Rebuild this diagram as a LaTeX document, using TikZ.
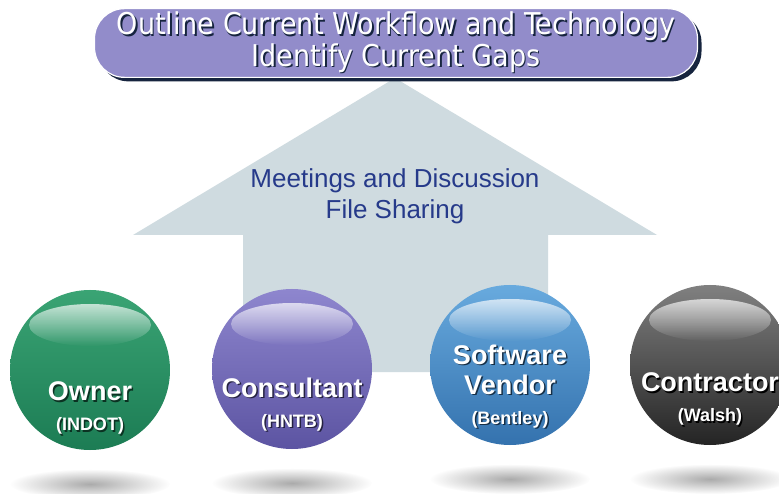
\documentclass[tikz,border=0pt]{standalone}
\usepackage{fontspec}
\setmainfont{Liberation Sans}
\newfontfamily\bannerfont{DejaVu Sans Condensed}
\usetikzlibrary{fadings, shadows}
\definecolor{bannerlo}{RGB}{146,140,202}
\definecolor{bannerhi}{RGB}{204,200,234}
\definecolor{bannerdark}{RGB}{22,36,62}
\definecolor{arrowgray}{RGB}{207,219,224}
\definecolor{arrowtext}{RGB}{38,58,138}
\definecolor{ownerbase}{RGB}{28,124,84}
\definecolor{ownerlight}{RGB}{58,164,116}
\definecolor{consbase}{RGB}{92,84,162}
\definecolor{conslight}{RGB}{142,134,206}
\definecolor{vendbase}{RGB}{52,114,174}
\definecolor{vendlight}{RGB}{104,170,222}
\definecolor{contbase}{RGB}{36,36,36}
\definecolor{contlight}{RGB}{128,128,128}
% white text with a dark copy underneath
\newcommand{\lifted}[2][black!70]{\makebox[0pt][l]{\hspace{1.5pt}\raisebox{-1.5pt}{\textcolor{#1}{#2}}}#2}
\newcommand{\subname}[1]{{\fontsize{18}{20}\selectfont #1}}
\tikzfading[name=glare, top color=transparent!30, bottom color=transparent!100]
\tikzfading[name=fuzzy, inner color=transparent!45, outer color=transparent!100]

\begin{document}
\begin{tikzpicture}[x=1pt, y=-1pt,
  orb/.style 2 args={circle, minimum size=160pt, inner sep=0pt,
    path picture={
      \shade[top color=#2, bottom color=#1] (path picture bounding box.south west) rectangle (path picture bounding box.north east);
      \fill[white, path fading=glare] ([yshift=45pt]path picture bounding box.center) ellipse (61pt and 21pt);
    }},
  orbtext/.style={text=white, align=center, font=\bfseries\fontsize{27}{30}\selectfont},
  floor/.style={fill=black!60, path fading=fuzzy},
  banner/.style={rounded corners=30pt, minimum width=603pt, minimum height=60pt,
    left color=bannerlo, middle color=bannerhi, right color=bannerlo, draw=white, line width=1.2pt,
    general shadow={shadow xshift=4pt, shadow yshift=-4pt, fill=bannerdark},
    text=white, align=center, font=\bannerfont\fontsize{30}{30}\selectfont}
]
\useasboundingbox (0,0) rectangle (779,494);
\fill[white] (0,0) rectangle (779,494);
\clip (0,0) rectangle (779,494);

% big arrow pointing up to the goal
\fill[arrowgray] (395,78) -- (657,235) -- (548,235) -- (548,372) -- (243,372) -- (243,235) -- (133,235) -- cycle;
\node[text=arrowtext, align=center, font=\fontsize{26}{31}\selectfont] (sharing) at (395,196)
  {Meetings and Discussion\\File Sharing};

\node[banner] (goal) at (396,43)
  {\lifted[bannerdark]{Outline Current Workflow and Technology}\\\lifted[bannerdark]{Identify Current Gaps}};

% parties
\node[orb={ownerbase}{ownerlight}] (owner) at (90,370) {};
\node[orb={consbase}{conslight}] (consultant) at (292,369) {};
\node[orb={vendbase}{vendlight}] (vendor) at (510,365) {};
\node[orb={contbase}{contlight}] (contractor) at (710,365) {};

\node[orbtext] (owner-text) at ([yshift=-39pt]owner.center)
  {\lifted[ownerbase!40!black]{Owner}\\\subname{\lifted[ownerbase!40!black]{(INDOT)}}};
\node[orbtext] (consultant-text) at ([yshift=-36pt]consultant.center)
  {\lifted[consbase!40!black]{Consultant}\\\subname{\lifted[consbase!40!black]{(HNTB)}}};
\node[orbtext] (vendor-text) at ([yshift=-22pt]vendor.center)
  {\lifted[vendbase!40!black]{Software}\\\lifted[vendbase!40!black]{Vendor}\\\subname{\lifted[vendbase!40!black]{(Bentley)}}};
\node[orbtext] (contractor-text) at ([yshift=-35pt]contractor.center)
  {\lifted[black]{Contractor}\\\subname{\lifted[black]{(Walsh)}}};

% floor shadows
\foreach \who in {owner, consultant, vendor, contractor}
  \fill[floor] ([yshift=-114pt]\who.center) ellipse (80pt and 15pt);
\end{tikzpicture}
\end{document}
